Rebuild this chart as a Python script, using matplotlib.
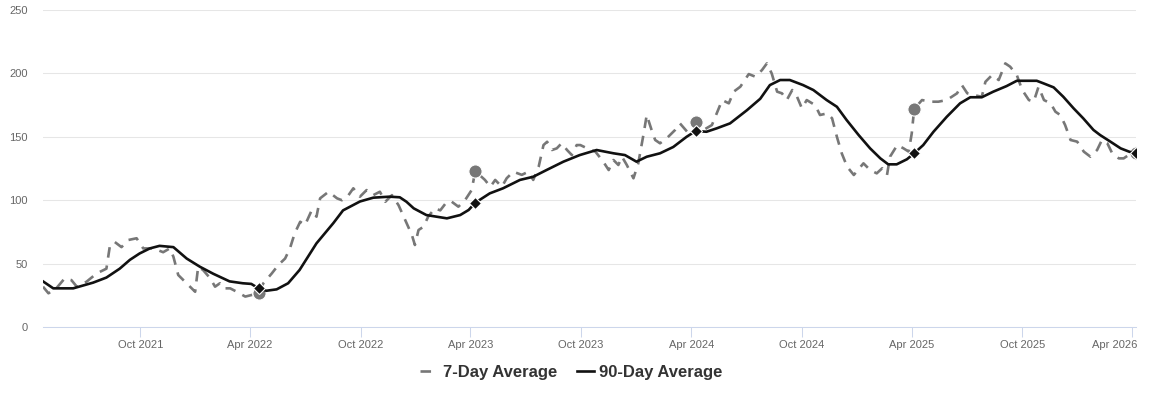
import pandas as pd
import matplotlib.pyplot as plt
import matplotlib.dates as mdates
import matplotlib.transforms as mtransforms
from matplotlib.lines import Line2D

plt.rcParams['font.family'] = ['Liberation Sans', 'DejaVu Sans']

# 7-day average, values
week_dates = [
    '2021-04-23', '2021-05-02', '2021-05-15', '2021-05-29', '2021-06-09', '2021-06-18',
    '2021-07-04', '2021-07-21', '2021-08-06', '2021-08-12', '2021-08-20', '2021-08-31',
    '2021-09-11', '2021-09-25', '2021-10-06', '2021-10-23', '2021-11-08', '2021-11-19',
    '2021-11-25', '2021-12-03', '2021-12-20', '2021-12-31', '2022-01-05', '2022-01-13',
    '2022-01-25', '2022-02-02', '2022-02-10', '2022-02-16', '2022-02-27', '2022-03-10',
    '2022-03-24', '2022-04-15', '2022-04-23', '2022-05-07', '2022-05-18', '2022-05-29',
    '2022-06-06', '2022-06-14', '2022-06-23', '2022-07-01', '2022-07-12', '2022-07-20',
    '2022-07-26', '2022-08-09', '2022-08-23', '2022-08-31', '2022-09-11', '2022-09-19',
    '2022-09-30', '2022-10-11', '2022-10-22', '2022-11-02', '2022-11-11', '2022-11-22',
    '2022-12-03', '2022-12-14', '2022-12-25', '2022-12-30', '2023-01-05', '2023-01-13',
    '2023-01-21', '2023-02-01', '2023-02-10', '2023-02-21', '2023-03-01', '2023-03-12',
    '2023-03-23', '2023-04-03', '2023-04-09', '2023-04-25', '2023-05-04', '2023-05-12',
    '2023-05-23', '2023-05-31', '2023-06-11', '2023-06-25', '2023-07-06', '2023-07-14',
    '2023-07-23', '2023-07-31', '2023-08-06', '2023-08-14', '2023-08-22', '2023-08-30',
    '2023-09-08', '2023-09-16', '2023-09-24', '2023-09-30', '2023-10-11', '2023-10-25',
    '2023-11-07', '2023-11-16', '2023-11-24', '2023-12-02', '2023-12-08', '2023-12-16',
    '2023-12-27', '2024-01-04', '2024-01-13', '2024-01-18', '2024-01-27', '2024-02-01',
    '2024-02-09', '2024-02-20', '2024-03-05', '2024-03-13', '2024-03-25', '2024-04-04',
    '2024-04-08', '2024-04-21', '2024-05-05', '2024-05-13', '2024-05-22', '2024-06-02',
    '2024-06-10', '2024-06-21', '2024-07-05', '2024-07-16', '2024-07-27', '2024-08-04',
    '2024-08-12', '2024-08-21', '2024-08-29', '2024-09-06', '2024-09-15', '2024-09-23',
    '2024-10-01', '2024-10-09', '2024-10-23', '2024-10-31', '2024-11-12', '2024-11-20',
    '2024-11-28', '2024-12-06', '2024-12-15', '2024-12-26', '2025-01-11', '2025-01-22',
    '2025-02-02', '2025-02-11', '2025-02-19', '2025-02-24', '2025-03-08', '2025-03-18',
    '2025-03-27', '2025-04-01', '2025-04-05', '2025-04-18', '2025-05-02', '2025-05-15',
    '2025-05-29', '2025-06-15', '2025-06-23', '2025-07-02', '2025-07-12', '2025-07-26',
    '2025-08-01', '2025-08-12', '2025-08-23', '2025-09-03', '2025-09-11', '2025-09-22',
    '2025-10-01', '2025-10-12', '2025-10-20', '2025-10-28', '2025-11-06', '2025-11-17',
    '2025-11-25', '2025-12-03', '2025-12-11', '2025-12-20', '2025-12-31', '2026-01-11',
    '2026-01-22', '2026-02-02', '2026-02-10', '2026-02-19', '2026-02-27', '2026-03-10',
    '2026-03-18', '2026-03-26', '2026-04-07',
]
week_vals = [
    31.8, 26.6, 30.5, 38.4, 37, 31.8,
    35.7, 42.3, 46, 64.7, 67, 63,
    68.6, 70, 62, 62, 59, 62,
    55.4, 41, 33, 27.8, 47.5, 45,
    38.4, 31.8, 34.5, 30.5, 30.5, 27.8,
    24, 26.6, 34.5, 42.3, 49, 54,
    62, 74, 83, 80.4, 92, 87,
    101.5, 106.7, 101.5, 100, 104, 109.4,
    102.8, 108, 104, 106.7, 98.8, 104,
    96, 84.4, 72.6, 64.7, 76.5, 79,
    87, 93.6, 92, 98.8, 98.8, 94.9,
    100, 108, 123, 116, 110.6, 116,
    110.6, 117.3, 122.5, 120, 122.5, 116,
    126.4, 143.5, 146.1, 139.6, 140.9, 144.9,
    139.6, 135.6, 143.5, 143.5, 141, 138.3,
    130.4, 123.8, 131.7, 127.8, 134.3, 127.8,
    117.3, 129.1, 152.8, 167.2, 154, 147.5,
    144.9, 148.8, 155.4, 160.6, 154, 158,
    161.4, 155.4, 159.3, 168.5, 179, 176.4,
    185.6, 189.5, 199.5, 197.4, 202.7, 207.9,
    200, 185.6, 184.3, 179, 186.9, 181.6,
    172.5, 179, 175, 167.2, 168.5, 164.6,
    150, 137, 126.4, 119.9, 129.1, 123.8,
    121.2, 125.2, 119.9, 134.3, 143.5, 141,
    138.3, 152.8, 172, 179, 177.7, 177.7,
    179, 184.3, 190.8, 184.3, 183, 181.6,
    193.4, 198.7, 194.8, 207.9, 205.3, 198.7,
    186.9, 179, 177.7, 189.5, 179, 176.4,
    169.8, 167.2, 159.3, 147.5, 146.2, 138.3,
    134.3, 139.6, 147.5, 144.9, 137, 133,
    133, 135.6, 137,
]

# 90-day average
qtr_dates = [
    '2021-04-23', '2021-05-10', '2021-06-12', '2021-07-15', '2021-08-06', '2021-08-28',
    '2021-09-14', '2021-09-30', '2021-10-17', '2021-11-02', '2021-11-25', '2021-12-17',
    '2022-01-08', '2022-01-30', '2022-02-26', '2022-03-20', '2022-04-03', '2022-04-15',
    '2022-04-28', '2022-05-15', '2022-06-03', '2022-06-22', '2022-07-20', '2022-08-17',
    '2022-09-02', '2022-09-30', '2022-10-22', '2022-11-18', '2022-12-05', '2022-12-16',
    '2022-12-28', '2023-01-18', '2023-02-04', '2023-02-21', '2023-03-15', '2023-03-29',
    '2023-04-09', '2023-05-03', '2023-05-25', '2023-06-22', '2023-07-14', '2023-08-05',
    '2023-09-02', '2023-09-29', '2023-10-27', '2023-11-24', '2023-12-13', '2024-01-01',
    '2024-01-18', '2024-02-09', '2024-03-02', '2024-03-24', '2024-04-08', '2024-04-26',
    '2024-05-13', '2024-06-04', '2024-07-02', '2024-07-24', '2024-08-09', '2024-08-26',
    '2024-09-11', '2024-10-03', '2024-10-20', '2024-11-11', '2024-11-28', '2024-12-14',
    '2025-01-03', '2025-01-22', '2025-02-08', '2025-02-21', '2025-03-07', '2025-03-24',
    '2025-04-05', '2025-04-20', '2025-05-07', '2025-05-29', '2025-06-20', '2025-07-07',
    '2025-07-26', '2025-08-14', '2025-09-05', '2025-09-22', '2025-10-25', '2025-11-05',
    '2025-11-22', '2025-12-08', '2025-12-25', '2026-01-10', '2026-01-27', '2026-02-07',
    '2026-02-24', '2026-03-13', '2026-03-27', '2026-04-07',
]
qtr_vals = [
    36, 30.5, 30.5, 35, 39, 46,
    53, 58, 62, 64, 63, 54,
    47.5, 42, 36, 34.5, 34, 30.5,
    28.6, 29.7, 34.5, 45, 66, 82,
    92, 99, 102, 102.8, 102.3, 98.8,
    93.6, 88.3, 87, 85.7, 88.3, 92.3,
    98, 105.4, 109.4, 116, 118.5, 123.8,
    130.4, 135.6, 139.6, 137, 135.6, 130.4,
    134.3, 137, 142, 150, 154.6, 154,
    156.7, 160.6, 171, 180, 190.8, 194.8,
    194.8, 190.8, 186.9, 179, 173.7, 163.3,
    151.4, 140.9, 133, 128.3, 128.3, 132.3,
    137, 143.5, 154, 165.8, 176.4, 181.2,
    181.2, 185.6, 190, 194.2, 194.2, 192.2,
    189, 181.6, 172.5, 164.6, 155.4, 151.4,
    146.2, 140.9, 138.3, 137,
]

# yearly highlighted points
mark_dates = ['2022-04-15', '2023-04-09', '2024-04-08', '2025-04-05', '2026-04-07']
mark_week = [26.6, 123, 161.4, 172, 137]
mark_qtr = [30.5, 98, 154.6, 137, 137]

tick_dates = ['2021-10-01', '2022-04-01', '2022-10-01', '2023-04-01', '2023-10-01',
              '2024-04-01', '2024-10-01', '2025-04-01', '2025-10-01', '2026-04-01']
y_ticks = [0, 50, 100, 150, 200, 250]

wd = pd.to_datetime(week_dates)
qd = pd.to_datetime(qtr_dates)
md = pd.to_datetime(mark_dates)

week_color = '#777777'
qtr_color = '#111111'

fig = plt.figure(figsize=(11.5, 4.01), dpi=100)
ax = fig.add_axes([0.0374, 0.1845, 0.9502, 0.7905])

ax.plot(wd, week_vals, color=week_color, lw=1.9, dashes=(4, 3), zorder=3)
ax.plot(md, mark_week, 'o', color=week_color, markersize=9.5,
        markeredgecolor='white', markeredgewidth=0.8, zorder=4, linestyle='none')
ax.plot(qd, qtr_vals, color=qtr_color, lw=1.9, zorder=5, solid_joinstyle='round')
ax.plot(md, mark_qtr, 'D', color=qtr_color, markersize=6,
        markeredgecolor='white', markeredgewidth=0.8, zorder=6, linestyle='none')

ax.set_xlim(wd[0], wd[-1])
ax.set_ylim(0, 250)
ax.set_yticks(y_ticks)
ax.set_xticks(pd.to_datetime(tick_dates))
ax.xaxis.set_major_formatter(mdates.DateFormatter('%b %Y'))

ax.yaxis.grid(True, color='#e6e6e6', linewidth=0.75)
ax.set_axisbelow(True)
for s in ['top', 'right', 'left']:
    ax.spines[s].set_visible(False)
ax.spines['bottom'].set_color('#ccd6eb')
ax.spines['bottom'].set_linewidth(0.75)

ax.tick_params(axis='y', length=0, pad=11, labelsize=8, labelcolor='#666666')
ax.tick_params(axis='x', length=7, width=0.75, color='#ccd6eb', pad=2,
               labelsize=8, labelcolor='#666666')

# keep the last date label inside the plot edge
last = ax.get_xticklabels()[-1]
last.set_horizontalalignment('right')
last.set_transform(last.get_transform() +
                   mtransforms.ScaledTranslation(0.05, 0, fig.dpi_scale_trans))

h1 = Line2D([], [], color=week_color, lw=1.9, dashes=(4, 3))
h2 = Line2D([], [], color=qtr_color, lw=1.9)
fig.legend([h1, h2], ['7-Day Average', '90-Day Average'], loc='center',
           bbox_to_anchor=(0.497, 0.072), ncol=2, frameon=False,
           prop={'weight': 'bold', 'size': 12}, labelcolor='#333333',
           handlelength=1.0, handletextpad=0.35, columnspacing=1.2)

fig.savefig('out.png', dpi=100)
